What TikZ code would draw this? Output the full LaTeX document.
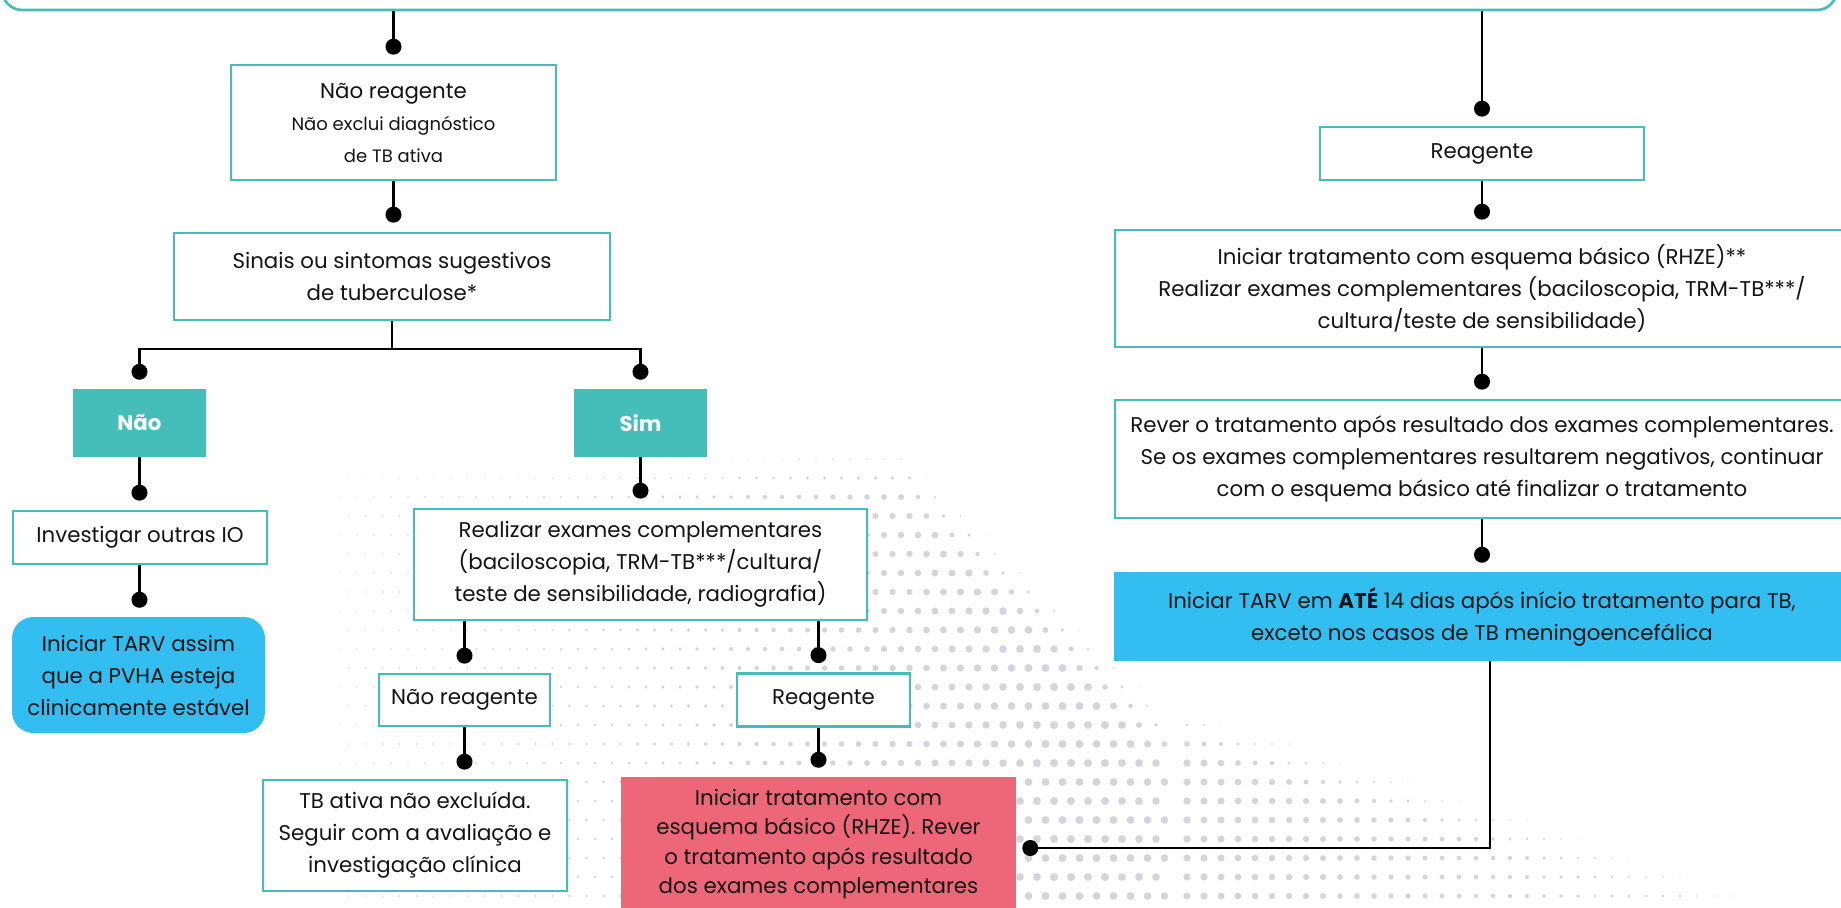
\documentclass[tikz,border=0pt]{standalone}
\usepackage{fontspec}
\setmainfont{Poppins}
\usepackage{tikz}
\usetikzlibrary{arrows.meta,calc}
\definecolor{tealb}{HTML}{45BDB9}
\definecolor{blueb}{HTML}{33BEF1}
\definecolor{pinkb}{HTML}{EE6779}
\definecolor{dotgrey}{HTML}{D4D4DC}
\definecolor{txt}{HTML}{141414}

\begin{document}
\begin{tikzpicture}[x=0.75pt,y=0.75pt,yscale=-1,xscale=1,
  box/.style={draw=tealb,line width=2pt,fill=white,align=center,inner sep=0pt,text=txt,font=\fontsize{16}{24}\selectfont},
  tagbox/.style={fill=tealb,align=center,inner sep=0pt,text=white,font=\fontsize{16}{24}\selectfont\bfseries},
  bluebox/.style={fill=blueb,align=center,inner sep=0pt,text=txt,font=\fontsize{16}{24}\selectfont},
  pinkbox/.style={fill=pinkb,align=center,inner sep=0pt,text=txt,font=\fontsize{16}{22}\selectfont},
  link/.style={line width=1.6pt,draw=black,-{Circle[length=12pt,width=12pt]}}]
\useasboundingbox (0,0) rectangle (1841,907);
\clip (0,0) rectangle (1841,907);

\foreach \hy [count=\hk] in {440,459,...,916}{
  \foreach \px in {340,357,...,1170}{
    \pgfmathsetmacro\hx{\px+8.5*mod(\hk,2)}
    \pgfmathsetmacro\hg{440+min(260,max(0,\hx-900))}
    \pgfmathsetmacro\hu{max(0,\hy-\hg)}
    \pgfmathsetmacro\hq{(\hx-1080)/350}
    \pgfmathsetmacro\hr{3*min(1,\hu/60)/(1+\hq*\hq)}
    \ifdim\hr pt>0.35pt \fill[dotgrey] (\hx,\hy) circle[radius=\hr pt];\fi
  }
}
\foreach \vy [count=\vk] in {706,725,...,916}{
  \foreach \vx in {1187,1204,...,1840}{
    \pgfmathsetmacro\vr{2.8*(1-(\vx-1170)/780)*min(1,max(0,(\vy-700-0.3*(\vx-1170))/50))}
    \ifdim\vr pt>0.35pt \fill[dotgrey] (\vx,\vy) circle[radius=\vr pt];\fi
  }
}

\node[draw=tealb,line width=2pt,rounded corners=15pt,minimum width=1376pt,minimum height=75pt] (top) at (919.5,-40) {};

\node[box,minimum width=243.75pt,minimum height=86.25pt] (nr1) at (393.5,122.5) {N\~ao reagente\\{\fontsize{13.5}{23}\selectfont N\~ao exclui diagn\'ostico}\\{\fontsize{13.5}{23}\selectfont de TB ativa}};
\node[box,minimum width=327pt,minimum height=65.25pt] (sinais) at (392,276.5) {Sinais ou sintomas sugestivos\\de tuberculose*};
\node[tagbox,minimum width=99.75pt,minimum height=51pt] (nao) at (139.5,423) {N\~ao};
\node[tagbox,minimum width=99.75pt,minimum height=51pt] (sim) at (640.5,423) {Sim};
\node[box,minimum width=190.5pt,minimum height=39.75pt] (invest) at (140,537.5) {Investigar outras IO};
\node[bluebox,rounded corners=16pt,minimum width=189.75pt,minimum height=87pt] (tarv1) at (138.5,675) {Iniciar TARV assim\\que a PVHA esteja\\clinicamente est\'avel};
\node[box,minimum width=339.75pt,minimum height=83.25pt] (realizar) at (640.5,564.5) {Realizar exames complementares\\(baciloscopia, TRM-TB***/cultura/\\teste de sensibilidade, radiografia)};
\node[box,minimum width=128.25pt,minimum height=39pt] (nr2) at (464.5,700) {N\~ao reagente};
\node[box,minimum width=129.75pt,minimum height=39.75pt] (reag2) at (823.5,700) {Reagente};
\node[box,minimum width=228pt,minimum height=83.25pt] (tbativa) at (415,835.5) {TB ativa n\~ao exclu\'ida.\\Seguir com a avalia\c{c}\~ao e\\investiga\c{c}\~ao cl\'inica};
\node[pinkbox,minimum width=296.25pt,minimum height=100.5pt] (pink) at (818.5,844) {Iniciar tratamento com\\esquema b\'asico (RHZE). Rever\\o tratamento ap\'os resultado\\dos exames complementares};

\node[box,minimum width=243pt,minimum height=39.75pt] (reag1) at (1482,153.5) {Reagente};
\node[box,minimum width=550.5pt,minimum height=87.75pt] (inic) at (1482,288.5) {Iniciar tratamento com esquema b\'asico (RHZE)**\\Realizar exames complementares (baciloscopia, TRM-TB***/\\cultura/teste de sensibilidade)};
\node[box,minimum width=550.5pt,minimum height=88.5pt] (rever) at (1482,459) {Rever o tratamento ap\'os resultado dos exames complementares.\\Se os exames complementares resultarem negativos, continuar\\com o esquema b\'asico at\'e finalizar o tratamento};
\node[bluebox,minimum width=552pt,minimum height=66.75pt] (tarv2) at (1482,616.5) {Iniciar TARV em \textbf{AT\'E} 14 dias ap\'os in\'icio tratamento para TB,\\exceto nos casos de TB meningoencef\'alica};

\draw[link] (top.south -| nr1.north) -- ($(nr1.north)+(0,-9)$);
\draw[link] (nr1.south) -- ($(nr1.south |- sinais.north)+(0,-9)$);
\coordinate (split) at ($(sinais.south)+(0,28)$);
\draw[link] (sinais.south) -- (split) -| ($(nao.north)+(0,-9)$);
\draw[link] (split) -| ($(sim.north)+(0,-9)$);
\draw[link] (nao.south) -- ($(nao.south |- invest.north)+(0,-9)$);
\draw[link] (invest.south -| nao.south) -- ($(nao.south |- tarv1.north)+(0,-9)$);
\draw[link] (sim.south) -- ($(sim.south |- realizar.north)+(0,-9)$);
\draw[link] (realizar.south -| nr2.north) -- ($(nr2.north)+(0,-9)$);
\draw[link] (realizar.south -| pink.north) -- ($(reag2.north -| pink.north)+(0,-9)$);
\draw[link] (nr2.south) -- ($(nr2.south |- tbativa.north)+(0,-9)$);
\draw[link] (reag2.south -| pink.north) -- ($(pink.north)+(0,-9)$);

\draw[link] (top.south -| reag1.north) -- ($(reag1.north)+(0,-9)$);
\draw[link] (reag1.south) -- ($(reag1.south |- inic.north)+(0,-9)$);
\draw[link] (inic.south) -- ($(rever.north)+(0,-9)$);
\draw[link] (rever.south) -- ($(tarv2.north)+(0,-9)$);
\draw[link] ($(tarv2.south)+(8,0)$) |- ($(pink.east)+(6,4)$);
\end{tikzpicture}
\end{document}
